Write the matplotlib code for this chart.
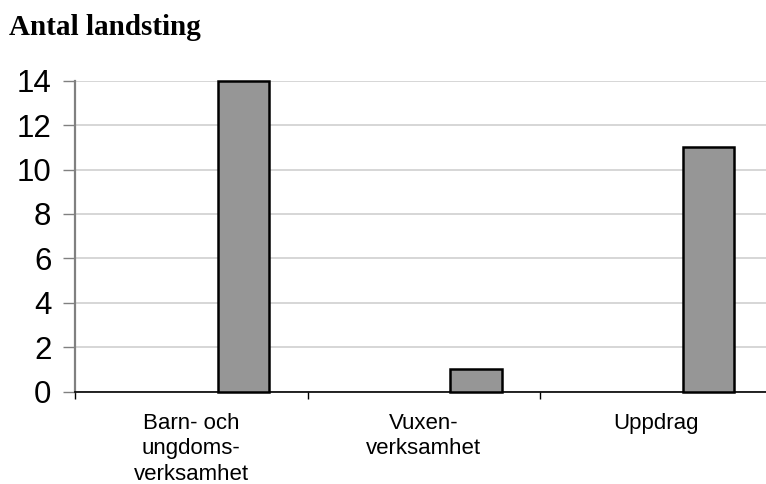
import numpy as np
import matplotlib
matplotlib.use("Agg")
import matplotlib.pyplot as plt

# data
categories = ["Barn- och\nungdoms-\nverksamhet", "Vuxen-\nverksamhet", "Uppdrag"]
antal = [14, 1, 11]
yticks = [0, 2, 4, 6, 8, 10, 12, 14]

W, H = 766, 484
fig = plt.figure(figsize=(W / 100, H / 100), dpi=100)
ax = fig.add_axes([75 / W, (H - 391.7) / H, (W - 75) / W, (391.7 - 80.7) / H])

x = np.arange(len(categories))
ax.bar(x + 0.725, antal, width=0.223, color="#969696", edgecolor="black",
       linewidth=1.8, zorder=3, clip_on=False)

ax.set_xlim(0, (W - 75) / 232.5)
ax.set_ylim(0, 14)

ax.set_yticks(yticks)
ax.set_yticklabels([str(v) for v in yticks], fontfamily="Liberation Sans", fontsize=22.5)
ax.tick_params(axis="y", length=8.5, width=1, color="#808080", pad=8.5)
ax.yaxis.grid(True, color="#d0d0d0", linewidth=1.2, zorder=0)
ax.set_axisbelow(True)

ax.set_xticks(x)
ax.set_xticklabels([])
ax.tick_params(axis="x", which="major", length=5, width=1, color="black")
ax.set_xticks(x + 0.5, minor=True)
ax.set_xticklabels(categories, minor=True, fontfamily="Liberation Sans",
                   fontsize=16, linespacing=1.3)
ax.tick_params(axis="x", which="minor", length=0, pad=15)

for s in ["top", "right"]:
    ax.spines[s].set_visible(False)
ax.spines["left"].set_color("#808080")
ax.spines["left"].set_linewidth(1.6)
ax.spines["bottom"].set_color("black")
ax.spines["bottom"].set_linewidth(1.2)

fig.text(9 / W, 1 - 35 / H, "Antal landsting", fontfamily="Liberation Serif",
         fontweight="bold", fontsize=21, va="baseline", ha="left")

fig.savefig("out.png", dpi=100)
